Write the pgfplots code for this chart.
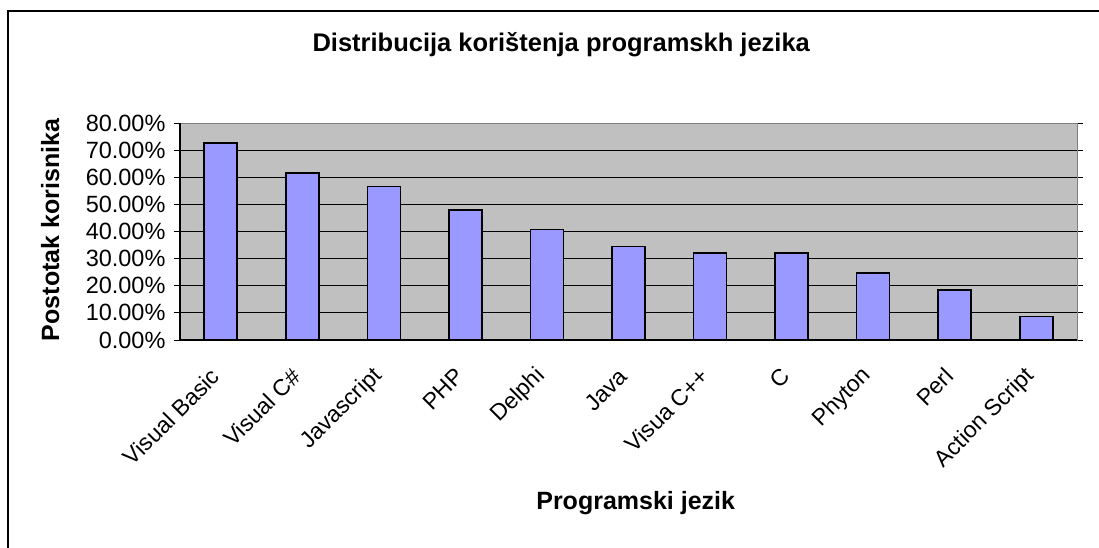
\documentclass[border=0pt]{standalone}
\usepackage{pgfplots}
\pgfplotsset{compat=1.18}
\usepackage{fontspec}
\setmainfont{Liberation Sans}
\definecolor{plotbg}{HTML}{C0C0C0}
\definecolor{barfill}{HTML}{9999FF}
\begin{document}
\begin{tikzpicture}[x=1pt,y=1pt]
\useasboundingbox (0,0) rectangle (1099,547);
\draw[line width=2.2pt,black] (8,-20) -- (8,536) -- (1120,536);
\begin{axis}[
  at={(180pt,207pt)}, anchor=south west,
  scale only axis, width=897pt, height=217pt,
  xmin=-0.5, xmax=10.5, ymin=0, ymax=80,
  axis background/.style={fill=plotbg},
  axis line style={draw=gray, line width=1pt},
  ymajorgrids, grid style={black, line width=0.9pt},
  ytick={0,10,...,80},
  yticklabel={\pgfmathprintnumber[fixed,fixed zerofill,precision=2]{\tick}\%},
  /pgf/number format/assume math mode=true,
  yticklabel style={font=\fontsize{23.5}{25}\selectfont, xshift=-5pt},
  tick align=outside,
  major tick length=6pt,
  minor tick length=6pt,
  ytick style={black, line width=0.9pt},
  xtick={0,...,10},
  xtick style={draw=none},
  minor xtick={-0.5,0.5,...,10.5},
  minor x tick style={black, line width=0.9pt},
  xticklabels={Visual Basic,Visual C\#,Javascript,PHP,Delphi,Java,Visua C++,C,Phyton,Perl,Action Script},
  xticklabel style={font=\fontsize{23}{25}\selectfont, xshift=-3pt, yshift=-24pt, rotate=45, anchor=east},
  title={Distribucija korištenja programskh jezika},
  title style={font=\bfseries\fontsize{25.5}{27}\selectfont, at={(0.425,1.335)}, anchor=center},
  xlabel={Programski jezik},
  xlabel style={font=\bfseries\fontsize{25}{27}\selectfont, at={(0.508,-0.751)}, anchor=center},
  ylabel={Postotak korisnika},
  ylabel style={font=\bfseries\fontsize{25}{27}\selectfont, at={(-0.1446,0.507)}, anchor=center, rotate=0},
  clip=false,
]
\addplot[ybar, bar width=33pt, fill=barfill, draw=black, line width=1.6pt]
  coordinates {(0,72.7) (1,61.6) (2,56.6) (3,47.9) (4,40.8) (5,34.4) (6,32.0) (7,32.0) (8,24.8) (9,18.4) (10,8.7)};
\draw[black, line width=1.2pt] (axis cs:-0.5,0) -- (axis cs:-0.5,80);
\draw[black, line width=1.2pt] (axis cs:-0.5,0) -- (axis cs:10.5,0);
\end{axis}
\end{tikzpicture}
\end{document}
